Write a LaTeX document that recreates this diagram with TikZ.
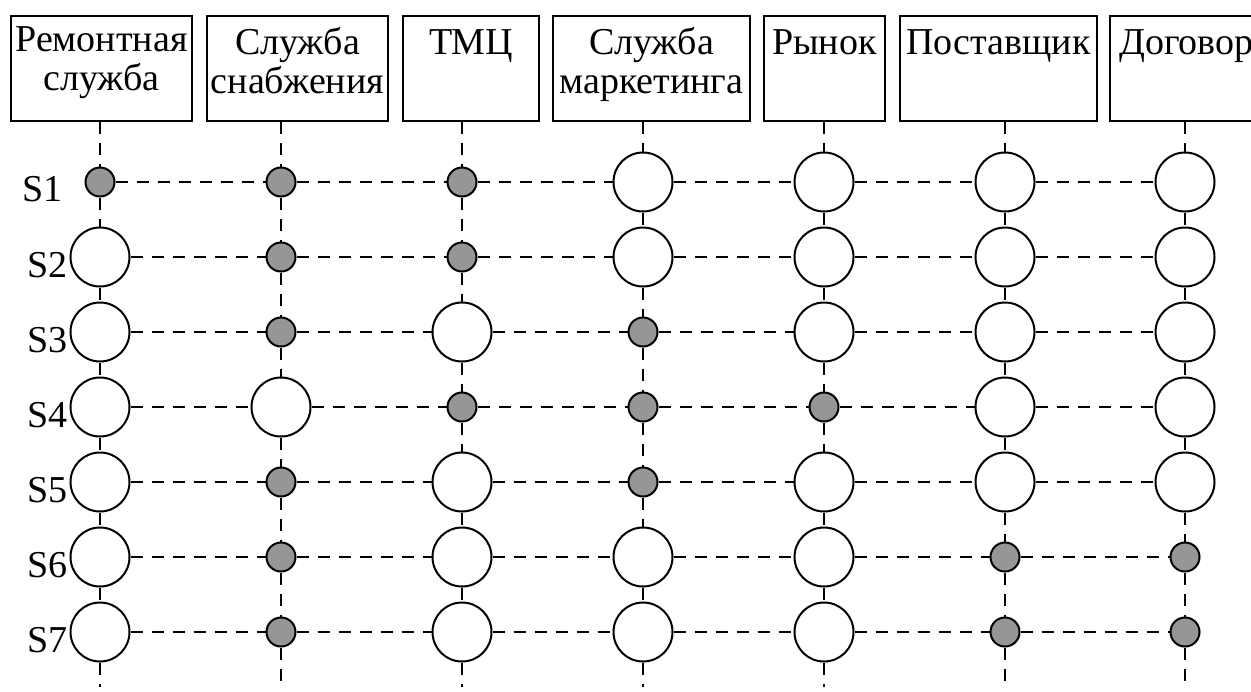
\documentclass[tikz,border=0pt]{standalone}
\usepackage{fontspec}
\setmainfont{Liberation Serif}
\usetikzlibrary{positioning, calc}
\definecolor{dotgray}{RGB}{150,150,150}
\tikzset{
	header/.style={rectangle, draw, line width=1pt, minimum height=52.5pt,
		anchor=north west, inner sep=0pt},
	headtext/.style={anchor=north, align=center, inner xsep=0pt,
		inner ysep=5.85pt, font=\fontsize{19}{19.5}\selectfont,
		execute at begin node=\strut},
	ring/.style={circle, draw, line width=1pt, fill=white,
		minimum size=29.5pt, inner sep=0pt},
	dot/.style={circle, draw, line width=1pt, fill=dotgray,
		minimum size=14.5pt, inner sep=0pt},
	link/.style={line width=1pt, dash pattern=on 6pt off 4.5pt},
	rowlabel/.style={anchor=base east, inner sep=0pt,
		font=\fontsize{19}{19.5}\selectfont}
}

\begin{document}
\begin{tikzpicture}[x=0.5pt, y=-0.5pt]
	\useasboundingbox (0,0) rectangle (1251,691);
	
	%% ---- Header boxes ----
	\node[header, minimum width=90.5pt] (h1) at (10,15)   {};
	\node[header, minimum width=90.5pt] (h2) at (206,15)  {};
	\node[header, minimum width=68pt]   (h3) at (402,15)  {};
	\node[header, minimum width=98.5pt] (h4) at (552,15)  {};
	\node[header, minimum width=60.5pt] (h5) at (763,15)  {};
	\node[header, minimum width=98.5pt] (h6) at (899,15)  {};
	\node[header, minimum width=76.5pt] (h7) at (1109,15) {};
	
	\node[headtext] (t1) at (h1.north) {Ремонтная\\служба};
	\node[headtext] (t2) at (h2.north) {Служба\\снабжения};
	\node[headtext] (t3) at (h3.north) {ТМЦ};
	\node[headtext] (t4) at (h4.north) {Служба\\маркетинга};
	\node[headtext] (t5) at (h5.north) {Рынок};
	\node[headtext] (t6) at (h6.north) {Поставщик};
	\node[headtext] (t7) at (h7.north) {Договор};
	
	%% ---- States: one column per header, rows S1..S7 ----
	\foreach \c/\cx/\pat in {
		1/100/{dot,ring,ring,ring,ring,ring,ring},
		2/281/{dot,dot,dot,ring,dot,dot,dot},
		3/462/{dot,dot,ring,dot,ring,ring,ring},
		4/643/{ring,ring,dot,dot,dot,ring,ring},
		5/824/{ring,ring,ring,dot,ring,ring,ring},
		6/1005/{ring,ring,ring,ring,ring,dot,dot},
		7/1185/{ring,ring,ring,ring,ring,dot,dot}}{
		\foreach \k [count=\r] in \pat {
			\node[\k] (p\c\r) at (\cx,{107+75*\r}) {};
		}
	}
	
	%% ---- Row labels ----
	\node[rowlabel] (l1) at (63,201) {S1};
	\foreach \r in {2,...,7}
		\node[rowlabel] (l\r) at (68,{127+75*\r}) {S\r};
	
	\coordinate (bot) at (0,687);
	
	%% ---- Vertical links ----
	\foreach \c in {1,...,7}{
		\draw[link] (h\c.south -| p\c1) -- (p\c1);
		\foreach \r [count=\s from 2] in {1,...,6}
			\draw[link] (p\c\r) -- (p\c\s);
		\draw[link] (p\c7) -- (p\c7 |- bot);
	}
	
	%% ---- Horizontal links ----
	\foreach \r in {1,...,7}{
		\foreach \c [count=\d from 2] in {1,...,6}
			\draw[link] (p\c\r) -- (p\d\r);
	}
	
\end{tikzpicture}
\end{document}
